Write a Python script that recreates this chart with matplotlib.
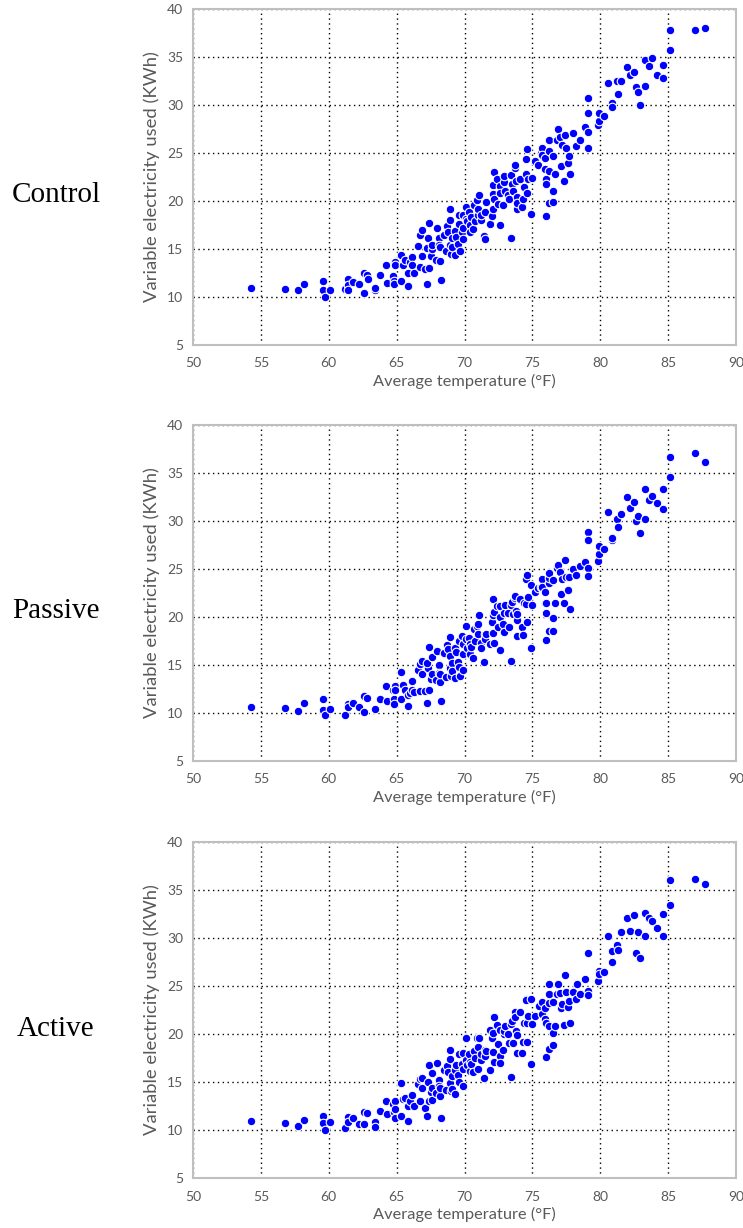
import matplotlib
matplotlib.use("Agg")
import matplotlib.pyplot as plt

# daily average temperature vs. variable electricity use, one panel per group
groups = ["Control", "Passive", "Active"]

control_temp = [
    54.3, 56.8, 57.7, 58.2, 59.6, 59.6, 59.7, 60.1, 61.2, 61.4, 61.4, 61.4, 61.8, 62.2, 62.6, 62.6,
    62.8, 62.9, 63.4, 63.4, 63.8, 64.2, 64.3, 64.7, 64.8, 64.8, 64.9, 64.9, 65.3, 65.3, 65.5, 65.6,
    65.8, 65.8, 66.0, 66.1, 66.1, 66.3, 66.6, 66.7, 66.7, 66.9, 66.9, 67.1, 67.2, 67.3, 67.2, 67.4,
    67.4, 67.5, 67.6, 67.6, 67.9, 68.0, 68.1, 68.1, 68.2, 68.2, 68.3, 68.5, 68.6, 68.7, 68.8, 68.9,
    68.9, 68.9, 69.0, 69.1, 69.1, 69.3, 69.3, 69.4, 69.5, 69.6, 69.6, 69.7, 69.8, 69.9, 69.9, 69.9,
    70.1, 70.1, 70.2, 70.3, 70.4, 70.4, 70.5, 70.6, 70.7, 70.8, 70.9, 71.0, 71.0, 71.1, 71.2, 71.2,
    71.4, 71.5, 71.5, 71.6, 71.9, 72.0, 72.1, 72.1, 72.1, 72.2, 72.2, 72.4, 72.5, 72.6, 72.6, 72.6,
    72.8, 72.9, 72.9, 73.0, 73.2, 73.3, 73.4, 73.4, 73.5, 73.6, 73.7, 73.7, 73.8, 73.9, 73.9, 73.9,
    74.1, 74.2, 74.3, 74.4, 74.5, 74.5, 74.6, 74.6, 74.7, 74.9, 75.0, 75.2, 75.4, 75.6, 75.7, 75.7,
    75.9, 75.9, 76.0, 76.0, 76.0, 76.2, 76.2, 76.2, 76.2, 76.5, 76.5, 76.5, 76.7, 76.8, 76.9, 77.0,
    77.1, 77.2, 77.3, 77.4, 77.5, 77.6, 77.7, 77.8, 78.0, 78.2, 78.5, 78.9, 79.1, 79.1, 79.1, 79.1,
    79.8, 79.9, 79.9, 80.3, 80.6, 80.9, 80.9, 81.2, 81.3, 81.5, 82.0, 82.2, 82.5, 82.6, 82.8, 82.9,
    83.3, 83.3, 83.6, 83.8, 84.2, 84.6, 84.6, 85.1, 85.1, 87.0, 87.7,
]
control_kwh = [
    10.9, 10.8, 10.7, 11.3, 11.7, 10.7, 10.0, 10.7, 10.8, 11.9, 11.2, 10.7, 11.6, 11.4, 10.4, 12.5,
    12.3, 11.9, 10.7, 10.9, 12.3, 13.3, 11.5, 12.2, 11.7, 11.4, 13.6, 13.3, 11.7, 14.4, 13.3, 13.9,
    12.5, 11.1, 13.6, 14.2, 13.3, 12.5, 15.3, 16.5, 13.1, 17.0, 14.3, 12.9, 11.4, 16.1, 15.1, 17.7,
    13.0, 14.3, 15.0, 15.4, 13.8, 17.2, 16.1, 15.4, 13.7, 15.2, 11.8, 16.5, 14.8, 17.4, 16.8, 18.0,
    15.4, 19.2, 14.5, 16.1, 15.2, 16.9, 14.4, 16.2, 15.5, 18.5, 17.6, 14.8, 16.8, 18.5, 17.2, 16.0,
    19.4, 18.1, 17.9, 18.8, 17.5, 16.8, 18.3, 17.1, 19.6, 17.9, 20.1, 18.5, 19.2, 20.6, 18.0, 18.5,
    16.3, 16.0, 18.9, 19.9, 17.6, 18.4, 19.2, 21.7, 20.7, 20.2, 23.0, 22.3, 19.7, 21.6, 20.8, 17.5,
    19.6, 22.0, 22.6, 21.0, 20.6, 20.2, 16.1, 22.7, 21.8, 21.0, 23.4, 23.7, 22.1, 20.4, 19.2, 19.8,
    22.3, 19.4, 20.2, 21.5, 22.8, 24.4, 20.8, 25.4, 22.3, 18.6, 22.4, 24.2, 23.7, 25.0, 25.5, 24.8,
    23.3, 24.5, 22.3, 21.8, 18.4, 19.8, 23.1, 25.2, 26.3, 24.7, 21.0, 19.9, 22.8, 26.3, 27.5, 26.7,
    23.6, 25.8, 22.1, 26.9, 25.5, 24.0, 24.7, 22.8, 27.1, 25.7, 26.4, 27.7, 30.7, 29.2, 27.2, 25.5,
    27.9, 28.3, 29.2, 28.9, 32.3, 30.2, 29.8, 32.5, 31.1, 32.5, 34.0, 33.1, 33.4, 31.9, 31.4, 30.0,
    34.7, 32.0, 34.1, 34.9, 33.1, 34.2, 32.8, 37.8, 35.7, 37.8, 38.0,
]

passive_temp = [
    54.3, 56.8, 57.7, 58.2, 59.6, 59.6, 59.7, 60.1, 61.2, 61.4, 61.4, 61.8, 62.2, 62.6, 62.6, 62.8,
    63.4, 63.8, 64.2, 64.3, 64.7, 64.8, 64.8, 64.9, 64.9, 65.3, 65.3, 65.5, 65.6, 65.8, 65.8, 66.0,
    66.1, 66.1, 66.3, 66.6, 66.7, 66.7, 66.9, 66.9, 67.1, 67.2, 67.3, 67.2, 67.4, 67.4, 67.5, 67.6,
    67.6, 67.9, 68.0, 68.1, 68.1, 68.2, 68.2, 68.3, 68.5, 68.6, 68.7, 68.8, 68.9, 68.9, 68.9, 69.0,
    69.1, 69.1, 69.3, 69.3, 69.4, 69.5, 69.6, 69.6, 69.7, 69.8, 69.9, 69.9, 69.9, 70.1, 70.1, 70.2,
    70.3, 70.4, 70.4, 70.5, 70.6, 70.7, 70.8, 70.9, 71.0, 71.0, 71.1, 71.2, 71.2, 71.4, 71.5, 71.5,
    71.6, 71.9, 72.0, 72.1, 72.1, 72.1, 72.2, 72.2, 72.4, 72.5, 72.6, 72.6, 72.6, 72.8, 72.9, 72.9,
    73.0, 73.2, 73.3, 73.4, 73.4, 73.5, 73.6, 73.7, 73.7, 73.8, 73.9, 73.9, 73.9, 74.1, 74.2, 74.3,
    74.4, 74.5, 74.5, 74.6, 74.6, 74.7, 74.9, 75.0, 74.9, 75.2, 75.4, 75.6, 75.7, 75.7, 75.9, 75.9,
    76.0, 76.0, 76.0, 76.2, 76.2, 76.2, 76.2, 76.5, 76.5, 76.5, 76.7, 76.8, 76.9, 77.0, 77.1, 77.2,
    77.3, 77.4, 77.5, 77.6, 77.7, 77.8, 78.0, 78.2, 78.5, 78.9, 79.1, 79.1, 79.1, 79.1, 79.8, 79.9,
    79.9, 80.3, 80.6, 80.9, 80.9, 81.2, 81.3, 81.5, 82.0, 82.2, 82.5, 82.6, 82.8, 82.9, 83.3, 83.3,
    83.6, 83.8, 84.2, 84.6, 84.6, 85.1, 85.1, 87.0, 87.7,
]
passive_kwh = [
    10.6, 10.5, 10.2, 11.0, 11.5, 10.3, 9.8, 10.4, 9.8, 10.9, 10.6, 11.0, 10.6, 10.1, 11.8, 11.6,
    10.4, 11.5, 12.8, 11.2, 12.4, 11.5, 10.9, 12.8, 12.4, 11.5, 14.3, 12.9, 12.4, 11.9, 10.7, 12.1,
    13.3, 12.4, 12.2, 14.5, 15.1, 12.3, 15.4, 14.1, 12.3, 11.0, 14.7, 15.2, 16.9, 12.4, 13.5, 14.1,
    15.8, 13.4, 16.5, 15.0, 14.2, 13.2, 14.1, 11.2, 16.2, 13.8, 17.1, 16.7, 17.9, 14.7, 15.9, 13.9,
    15.2, 14.4, 16.8, 13.6, 16.4, 15.3, 17.5, 14.8, 13.9, 18.0, 16.1, 14.5, 17.2, 19.1, 17.7, 16.8,
    17.8, 17.2, 16.1, 16.9, 15.7, 18.7, 17.5, 19.1, 18.2, 19.3, 20.2, 17.3, 16.8, 15.3, 18.2, 17.7,
    18.2, 17.2, 19.5, 18.3, 21.9, 20.2, 17.3, 20.5, 21.1, 19.0, 21.1, 20.0, 16.6, 19.3, 18.4, 20.4,
    21.2, 20.4, 19.0, 15.4, 21.2, 21.6, 20.3, 22.0, 22.2, 20.6, 19.7, 18.0, 20.3, 21.9, 19.0, 18.1,
    21.5, 21.4, 24.0, 19.5, 24.4, 22.1, 16.8, 21.3, 23.3, 22.6, 23.0, 23.1, 24.0, 23.1, 22.6, 21.5,
    20.4, 21.5, 17.6, 18.5, 23.5, 24.1, 24.6, 23.9, 18.5, 19.9, 21.5, 25.1, 25.4, 24.7, 22.4, 24.0,
    21.5, 25.9, 24.2, 22.8, 24.2, 20.8, 25.0, 24.4, 25.3, 25.7, 28.9, 28.0, 25.1, 24.3, 25.8, 26.6,
    27.4, 27.1, 30.9, 28.0, 28.2, 30.2, 29.4, 30.7, 32.5, 31.4, 32.0, 30.0, 30.5, 28.8, 33.3, 30.2,
    32.2, 32.6, 31.9, 33.3, 31.2, 36.7, 34.6, 37.1, 36.1,
]

active_temp = [
    54.3, 56.8, 57.7, 58.2, 59.6, 59.6, 59.7, 60.1, 61.2, 61.4, 61.4, 61.8, 62.2, 62.6, 62.6, 62.8,
    63.4, 63.4, 63.8, 64.2, 64.3, 64.7, 64.8, 64.9, 64.9, 64.9, 65.3, 65.3, 65.5, 65.6, 65.8, 65.8,
    66.0, 66.1, 66.3, 66.6, 66.7, 66.7, 66.9, 66.9, 67.1, 67.2, 67.3, 67.4, 67.4, 67.5, 67.6, 67.6,
    67.6, 67.9, 68.0, 68.1, 68.1, 68.2, 68.2, 68.3, 68.5, 68.6, 68.7, 68.8, 68.9, 68.9, 68.9, 69.0,
    69.1, 69.1, 69.3, 69.3, 69.4, 69.5, 69.6, 69.6, 69.8, 69.9, 69.9, 69.9, 70.1, 70.1, 70.2, 70.3,
    70.4, 70.4, 70.5, 70.6, 70.7, 70.8, 70.9, 71.0, 71.0, 71.1, 71.2, 71.2, 71.4, 71.5, 71.5, 71.6,
    71.9, 71.9, 72.0, 72.1, 72.2, 72.1, 72.2, 72.4, 72.5, 72.6, 72.6, 72.6, 72.8, 72.9, 72.9, 73.0,
    73.2, 73.3, 73.4, 73.4, 73.5, 73.6, 73.7, 73.7, 73.8, 73.9, 73.9, 74.1, 74.2, 74.3, 74.4, 74.5,
    74.5, 74.6, 74.6, 74.7, 74.9, 74.9, 75.0, 75.2, 75.5, 75.7, 75.7, 75.9, 75.9, 76.0, 76.0, 76.2,
    76.2, 76.2, 76.2, 76.2, 76.5, 76.5, 76.5, 76.7, 76.8, 76.9, 77.0, 77.1, 77.2, 77.3, 77.4, 77.5,
    77.6, 77.7, 77.8, 78.0, 78.2, 78.3, 78.5, 78.9, 79.1, 79.1, 79.1, 79.8, 79.9, 79.9, 80.3, 80.6,
    80.9, 80.9, 81.2, 81.3, 81.5, 82.0, 82.2, 82.5, 82.6, 82.8, 82.9, 83.3, 83.3, 83.6, 83.8, 84.2,
    84.6, 84.6, 85.1, 85.1, 87.0, 87.7,
]
active_kwh = [
    10.9, 10.7, 10.4, 11.0, 11.5, 10.7, 10.0, 10.8, 10.2, 11.4, 10.8, 11.3, 10.6, 10.6, 11.9, 11.8,
    10.8, 10.3, 12.0, 13.0, 11.7, 12.7, 11.9, 11.3, 13.0, 12.2, 11.5, 14.9, 13.2, 13.3, 12.5, 10.9,
    13.0, 13.6, 12.5, 14.8, 15.3, 13.0, 15.4, 14.4, 12.3, 11.5, 15.0, 16.8, 13.0, 14.0, 14.4, 15.9,
    13.1, 13.9, 17.0, 15.2, 14.6, 13.5, 14.4, 11.3, 16.3, 14.2, 16.7, 16.0, 18.3, 14.9, 17.4, 14.1,
    15.6, 14.3, 16.3, 13.8, 16.8, 15.7, 17.9, 15.0, 16.9, 18.0, 14.6, 16.4, 19.6, 17.3, 16.8, 17.9,
    17.1, 16.1, 16.9, 16.0, 18.2, 17.5, 19.6, 18.6, 16.4, 19.6, 17.3, 17.9, 15.4, 18.3, 17.7, 18.2,
    16.3, 20.4, 19.6, 18.1, 21.8, 20.1, 17.1, 20.9, 19.0, 17.7, 20.4, 17.0, 18.3, 20.0, 20.3, 20.8,
    20.0, 19.1, 15.5, 21.0, 21.4, 19.1, 22.3, 21.8, 20.3, 19.9, 18.0, 22.3, 18.0, 19.2, 21.2, 23.7,
    23.5, 19.2, 21.1, 21.9, 16.9, 23.7, 21.0, 21.9, 22.9, 23.3, 22.1, 21.6, 22.7, 21.1, 17.6, 18.4,
    20.8, 23.2, 24.2, 25.2, 18.9, 20.1, 23.3, 20.8, 24.2, 25.2, 24.3, 22.7, 23.1, 20.9, 26.1, 24.4,
    22.8, 23.4, 21.1, 24.4, 23.7, 25.2, 24.2, 25.7, 28.4, 24.5, 24.1, 25.5, 26.6, 26.3, 26.5, 30.2,
    28.7, 27.5, 29.3, 28.8, 30.6, 32.1, 30.7, 32.4, 28.4, 30.6, 27.9, 32.6, 30.2, 32.1, 31.8, 31.0,
    32.5, 30.2, 36.0, 33.4, 36.1, 35.6,
]

panels = [
    (control_temp, control_kwh),
    (passive_temp, passive_kwh),
    (active_temp, active_kwh),
]

fig = plt.figure(figsize=(7.43, 12.28), dpi=100)

ax_left, ax_width, ax_height = 0.2598, 0.7308, 0.2736
bottoms = [0.7191, 0.3803, 0.0407]
label_font = ["Lato", "DejaVu Sans"]
tick_grey = "#595959"

for name, (temp, kwh), bottom in zip(groups, panels, bottoms):
    ax = fig.add_axes([ax_left, bottom, ax_width, ax_height])
    ax.scatter(temp, kwh, s=38, c="#0000FF", edgecolors="white", linewidths=0.8, zorder=3)

    ax.set_xlim(50, 90)
    ax.set_ylim(5, 40)
    ax.set_xticks(range(50, 91, 5))
    ax.set_yticks(range(5, 41, 5))
    ax.grid(True, color="black", linestyle=(0, (1, 2.5)), linewidth=1.0)
    ax.set_axisbelow(True)
    ax.tick_params(axis="x", length=0, labelsize=10, colors=tick_grey, pad=9)
    ax.tick_params(axis="y", length=0, labelsize=10, colors=tick_grey, pad=7)
    for lbl in ax.get_xticklabels() + ax.get_yticklabels():
        lbl.set_family(label_font)
    for sp in ax.spines.values():
        sp.set_color("#BFBFBF")
        sp.set_linewidth(1.5)

    ax.set_xlabel("Average temperature (°F)", fontsize=11.8, color=tick_grey,
                  family=label_font, labelpad=3)
    ax.set_ylabel("Variable electricity used (KWh)", fontsize=13.3, color=tick_grey,
                  family=label_font, labelpad=5)

    # group name to the left of each panel
    fig.text(56 / 743, bottom + ax_height * 0.445, name, ha="center", va="center",
             fontsize=21, family="Liberation Serif", color="black")

fig.savefig("out.png", dpi=100)
